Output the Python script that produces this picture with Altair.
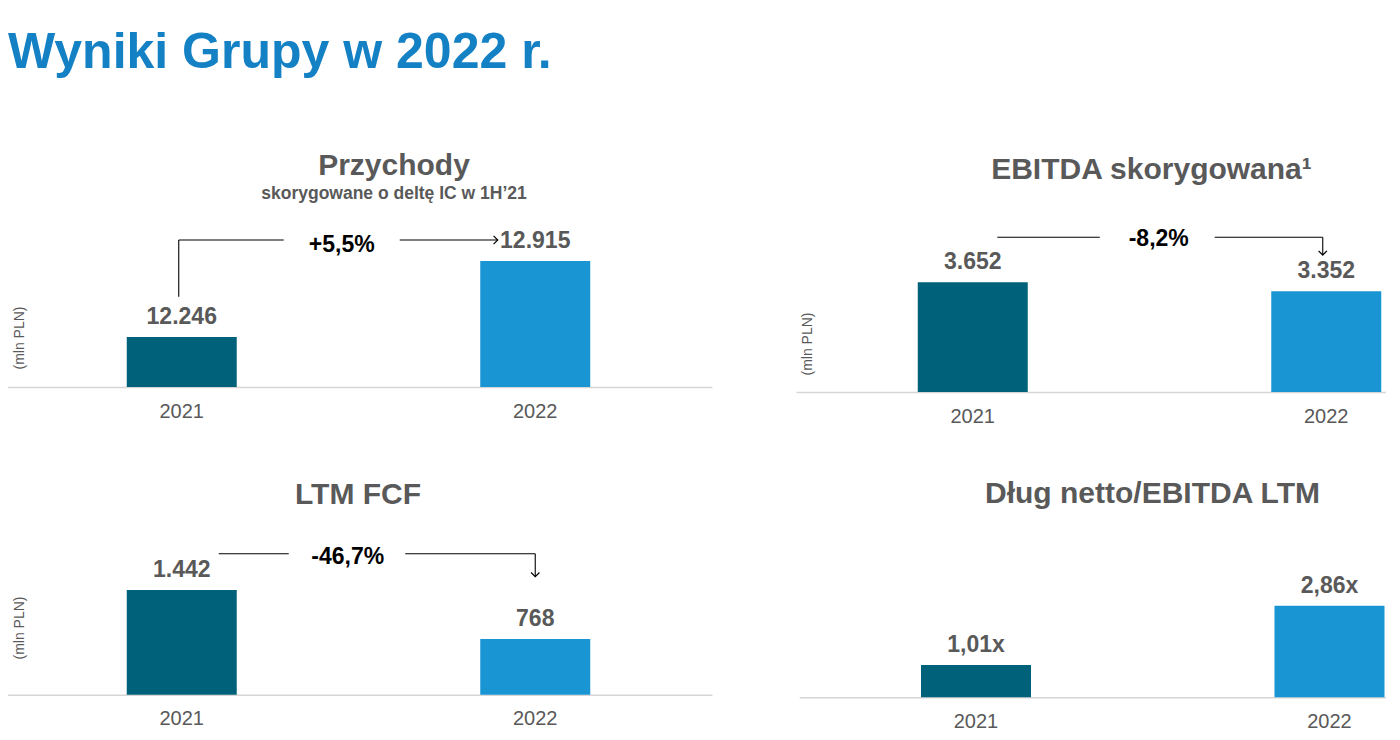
import altair as alt
import pandas as pd

# ---------------- data ----------------
years = ["2021", "2022"]
revenue = [12246, 12915]          # mln PLN
ebitda = [3652, 3352]             # mln PLN
fcf = [1442, 768]                 # mln PLN
leverage = [1.01, 2.86]           # x

revenue_change = "+5,5%"
ebitda_change = "-8,2%"
fcf_change = "-46,7%"

main_title = "Wyniki Grupy w 2022 r."
panel_titles = ["Przychody", "EBITDA skorygowana\u00b9", "LTM FCF", "Dług netto/EBITDA LTM"]
subtitle = "skorygowane o deltę IC w 1H\u201921"
unit = "(mln PLN)"

# ---------------- style ----------------
DARK = "#00627A"
LIGHT = "#1A95D4"
GRAY = "#595959"
BLUE = "#1581C5"
FONT = "Liberation Sans"
W, H = 1378, 724

one = pd.DataFrame({"k": [0]})


def fmt_thousands(v):
    return f"{v:,}".replace(",", ".")


def fmt_ratio(v):
    return f"{v:.2f}".replace(".", ",") + "x"


def text_mark(txt, x, y, size, weight="bold", color=GRAY, align="center", angle=0, baseline="alphabetic"):
    return alt.Chart(one).mark_text(
        font=FONT, fontSize=size, fontWeight=weight, color=color, align=align,
        baseline=baseline, angle=angle
    ).encode(text=alt.value(txt), x=alt.value(x), y=alt.value(y))


def panel(values, labels, xrange, ydomain, yrange, axis_y, annotations):
    df = pd.DataFrame({"year": years, "value": values, "label": labels})
    xs = alt.Scale(domain=years, range=xrange, paddingInner=0, paddingOuter=0)
    ys = alt.Scale(domain=ydomain, range=yrange, zero=False, nice=False)
    xaxis = alt.Axis(orient="bottom", offset=axis_y - H, labelAngle=0, ticks=False,
                     tickSize=0, grid=False, domainColor="#D6D6D6", domainWidth=1.5,
                     labelFont=FONT, labelFontSize=20, labelColor=GRAY,
                     labelBaseline="middle", labelPadding=24, title=None)
    x = alt.X("year:N", scale=xs, title=None, axis=xaxis)
    y = alt.Y("value:Q", scale=ys, axis=None)

    def xd(yr):
        return alt.XDatum(yr, axis=xaxis, title=None)

    base = alt.Chart(df)
    bars = base.mark_bar(width=110).encode(
        x=x, y=y, y2=alt.Y2Datum(ydomain[0]),
        color=alt.Color("year:N", scale=alt.Scale(domain=years, range=[DARK, LIGHT]), legend=None),
    )
    lbl = base.mark_text(font=FONT, fontSize=23, fontWeight="bold", color=GRAY,
                         dy=-20, baseline="middle").encode(x=x, y=y, text="label:N")
    layers = [bars, lbl]
    for a in annotations:
        kind = a[0]
        if kind == "h":   # horizontal segment: y, year1, off1, year2, off2
            _, yv, y1, o1, y2, o2 = a
            layers.append(alt.Chart(one).mark_rule(color="black", strokeWidth=1.1,
                                                   xOffset=o1, x2Offset=o2).encode(
                x=xd(y1), x2=alt.X2Datum(y2), y=alt.YDatum(yv, axis=None)))
        elif kind == "v":  # vertical segment: year, off, y1, y2
            _, yr, o, v1, v2 = a
            layers.append(alt.Chart(one).mark_rule(color="black", strokeWidth=1.1, xOffset=o).encode(
                x=xd(yr), y=alt.YDatum(v1, axis=None), y2=alt.Y2Datum(v2)))
        elif kind == "t":  # text: year, dx, y, dy, label
            _, yr, dx, yv, dy, txt = a
            layers.append(alt.Chart(one).mark_text(font=FONT, fontSize=23, fontWeight="bold",
                                                   color="black", dx=dx, dy=dy, baseline="middle").encode(
                x=xd(yr), y=alt.YDatum(yv, axis=None), text=alt.value(txt)))
        elif kind in ("ar", "ad"):  # arrow head right / down: year, off, y
            _, yr, o, yv = a
            path = "M-1,-1L0,0L-1,1" if kind == "ar" else "M-1,-1L0,0L1,-1"
            layers.append(alt.Chart(one).mark_point(shape=path, size=70, filled=False, opacity=1,
                                                    stroke="black", strokeWidth=1.2, xOffset=o).encode(
                x=xd(yr), y=alt.YDatum(yv, axis=None)))
    return alt.layer(*layers)


p1 = panel(revenue, [fmt_thousands(v) for v in revenue], [-3, 704], [11806, 13276], [379, 212], 379,
           [("v", "2021", -3, 12600, 13100),
            ("h", 13100, "2021", -3, "2021", 102),
            ("t", "2021", 160, 13100, 5, revenue_change),
            ("h", 13100, "2021", 218, "2022", -37.5),
            ("ar", "2022", -37.5, 13100)])

p2 = panel(ebitda, [fmt_thousands(v) for v in ebitda], [788, 1495], [0, 5500], [384, 218.8], 384,
           [("h", 5150, "2021", 24.5, "2021", 127),
            ("t", "2021", 186, 5150, 2, ebitda_change),
            ("h", 5150, "2022", -111.5, "2022", -3.5),
            ("v", "2022", -3.5, 5150, 4560),
            ("ad", "2022", -3.5, 4560)])

p3 = panel(fcf, [fmt_thousands(v) for v in fcf], [-3, 704], [0, 2000], [686.7, 541.5], 686.7,
           [("h", 1942, "2021", 37, "2021", 107),
            ("t", "2021", 166, 1942, 3, fcf_change),
            ("h", 1942, "2022", -130, "2022", 0),
            ("v", "2022", 0, 1942, 1625),
            ("ad", "2022", 0, 1625)])

p4 = panel(leverage, [fmt_ratio(v) for v in leverage], [791.25, 1498.25], [0, 4], [689.3, 561.2], 689.3, [])

texts = [
    text_mark(main_title, 0, 60, 50, color=BLUE, align="left"),
    text_mark(panel_titles[0], 386, 167, 30),
    text_mark(subtitle, 386, 191.3, 17.5),
    text_mark(panel_titles[1], 1143.5, 171.3, 30),
    text_mark(panel_titles[2], 350, 496.3, 30),
    text_mark(panel_titles[3], 1144.5, 494.7, 30),
    text_mark(unit, 12, 330, 14, weight="normal", angle=270, baseline="middle"),
    text_mark(unit, 800, 336, 14, weight="normal", angle=270, baseline="middle"),
    text_mark(unit, 12, 620, 14, weight="normal", angle=270, baseline="middle"),
]

chart = alt.layer(p1, p2, p3, p4, *texts).resolve_scale(
    x="independent", y="independent"
).resolve_axis(x="independent", y="independent").properties(
    width=W, height=H, autosize=alt.AutoSizeParams(type="none"), padding=0, background="white"
).configure_view(stroke=None)

chart.save("out.html", embed_options={"renderer": "svg", "actions": False})
